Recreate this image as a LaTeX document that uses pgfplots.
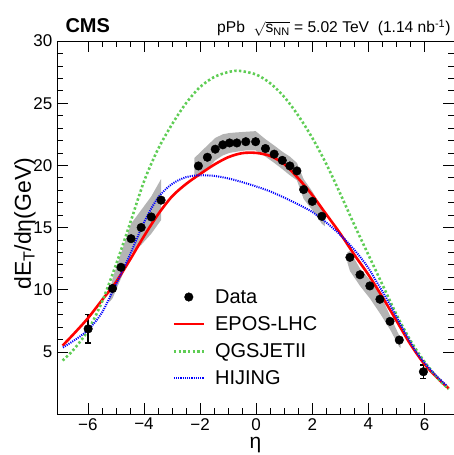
\documentclass[border=0pt]{standalone}
\usepackage{pgfplots}
\pgfplotsset{compat=1.18}
\usepackage{fontspec}
\setmainfont{Liberation Sans}
\definecolor{qgsgreen}{RGB}{95,205,85}
\definecolor{bandgray}{RGB}{180,180,180}
\pgfplotsset{
  linelegend/.style={legend image code/.code={\draw[##1] (0pt,0pt) -- (30pt,0pt);}},
  marklegend/.style={legend image code/.code={\draw[##1, mark repeat=2, mark phase=2] plot coordinates {(0pt,0pt) (15pt,0pt) (30pt,0pt)};}},
}
\pgfplotstableread{
x y e
-5.99 6.85 1.15
-5.12 10.1 0
-4.82 11.8 0
-4.46 14.1 0
-4.10 15.0 0
-3.74 15.85 0
-3.39 17.2 0
-2.06 19.95 0
-1.74 20.65 0
-1.46 21.3 0
-1.19 21.65 0
-0.95 21.8 0
-0.69 21.8 0
-0.37 21.9 0
-0.02 21.9 0
0.33 21.35 0
0.64 20.9 0
0.93 20.4 0
1.20 19.95 0
1.45 19.55 0
1.69 18.05 0
2.00 17.1 0
2.34 15.9 0
3.34 12.6 0
3.70 11.2 0
4.05 10.3 0
4.41 9.23 0
4.77 7.45 0
5.10 5.95 0
5.96 3.4 0.53
}\datatab
\pgfplotstableread{
x y
-6.9 5.5
-6.5 6.45
-6.0 7.7
-5.5 9.15
-5.0 10.6
-4.5 12.4
-4.0 14.3
-3.5 16.05
-3.0 17.5
-2.5 18.5
-2.0 19.3
-1.5 20.05
-1.0 20.65
-0.5 20.98
0.0 21.0
0.5 20.75
1.0 20.1
1.5 18.95
2.0 17.6
2.5 16.05
3.0 14.5
3.5 12.8
4.0 11.2
4.5 9.4
5.0 7.5
5.5 5.6
6.0 4.0
6.5 2.8
6.86 2.06
}\epostab
\pgfplotstableread{
x y
-6.9 4.3
-6.5 5.2
-6.0 6.7
-5.5 9.0
-5.0 12.0
-4.5 15.3
-4.0 18.7
-3.5 21.3
-3.0 23.3
-2.5 25.0
-2.0 26.3
-1.5 27.1
-1.0 27.5
-0.6 27.6
0.0 27.3
0.5 26.6
1.0 25.5
1.5 24.0
2.0 22.2
2.5 20.1
3.0 17.7
3.5 15.2
4.0 12.8
4.5 10.4
5.0 8.0
5.5 5.9
6.0 4.2
6.5 2.8
6.86 2.0
}\qgstab
\pgfplotstableread{
x y
-6.89 5.35
-6.5 5.9
-6.0 6.75
-5.5 8.15
-5.0 10.4
-4.5 12.8
-4.0 15.4
-3.5 17.4
-3.0 18.5
-2.5 19.05
-2.0 19.2
-1.5 19.15
-1.0 18.95
-0.5 18.65
0.0 18.3
0.5 17.9
1.0 17.4
1.5 16.85
2.0 16.25
2.5 15.4
3.0 14.4
3.5 13.2
3.95 11.9
4.3 10.6
4.66 9.23
5.0 7.8
5.37 6.28
5.7 5.0
6.09 3.87
6.45 3.0
6.8 2.26
}\hijtab
\begin{document}
\begin{tikzpicture}
\begin{axis}[
  at={(0pt,0pt)}, anchor=south west,
  scale only axis, width=397pt, height=373pt,
  xmin=-7.1, xmax=7.05, ymin=0, ymax=30,
  xtick={-6,-4,-2,0,2,4,6},
  xticklabels={−6,−4,−2,0,2,4,6},
  ytick={5,10,15,20,25,30},
  yticklabels={5,10,15,20,25,30},
  minor x tick num=3, minor y tick num=4,
  tick align=inside, major tick length=11pt, minor tick length=6pt,
  every tick/.style={black, line width=0.6pt},
  axis line style={line width=0.8pt},
  tick label style={font=\fontsize{17}{17}\selectfont},
  xticklabel style={inner sep=0pt, yshift=-4pt},
  yticklabel style={inner sep=0pt, xshift=-4.5pt},
  xlabel={η},
  xlabel style={font=\fontsize{21}{21}\selectfont, inner sep=0pt, at={(axis description cs:0.5,-0.0938)}, anchor=base},
  ylabel={dE\textsubscript{T}/dη(GeV)},
  ylabel style={font=\fontsize{23}{23}\selectfont, at={(axis description cs:-0.066,0.51)}, anchor=base},
  linelegend,
  legend style={at={(axis cs:-2.99,10.2)}, anchor=north west, draw=none, fill=none,
    font=\fontsize{20}{20}\selectfont, inner xsep=0pt, inner ysep=0pt,
    column sep=8pt, row sep=7.7pt},
  legend cell align=left,
]
% systematic bands
\addplot[fill=bandgray, draw=none, forget plot] coordinates {
(-5.23,9.6) (-5.12,10.9) (-4.82,12.9) (-4.46,15.3) (-4.10,16.4) (-3.74,17.5) (-3.39,18.9)
(-3.39,15.6) (-3.74,14.5) (-4.10,13.6) (-4.46,12.9) (-4.82,10.9) (-5.12,9.3) (-5.23,9.0)};
\addplot[fill=bandgray, draw=none, forget plot] coordinates {
(-2.2,20.6) (-2.06,20.9) (-1.74,21.6) (-1.46,22.2) (-1.19,22.5) (-0.95,22.6) (-0.69,22.65)
(-0.37,22.7) (-0.02,22.75) (0.33,22.1) (0.64,21.6) (0.93,21.1) (1.20,20.7) (1.45,20.2)
(1.69,18.9) (2.00,17.9) (2.34,16.6) (2.45,16.3)
(2.45,15.1) (2.34,15.3) (2.00,16.4) (1.69,17.3) (1.45,18.8) (1.20,19.2) (0.93,19.7)
(0.64,20.2) (0.33,20.7) (-0.02,21.2) (-0.37,21.2) (-0.69,21.1) (-0.95,21.0) (-1.19,20.8)
(-1.46,20.4) (-1.74,19.7) (-2.06,19.1) (-2.2,19.2)};
\addplot[fill=bandgray, draw=none, forget plot] coordinates {
(3.25,13.0) (3.34,13.1) (3.70,11.7) (4.05,10.8) (4.41,9.7) (4.77,7.9) (5.10,6.3) (5.15,6.0)
(5.15,5.3) (5.10,5.4) (4.77,6.8) (4.41,8.1) (4.05,9.3) (3.70,10.3) (3.34,11.5) (3.25,12.2)};
% data
\addplot[only marks, mark=*, mark size=4.3pt, black, marklegend,
  error bars/.cd, y dir=both, y explicit,
  error bar style={line width=1.6pt},
  error mark options={rotate=90, mark size=3pt, line width=1.6pt}]
  table[x=x, y=y, y error=e] {\datatab};
\addlegendentry{Data}
\addplot[red, line width=2.6pt, smooth] table[x=x, y=y] {\epostab};
\addlegendentry{EPOS-LHC}
\addplot[qgsgreen, line width=2.6pt, dash pattern=on 2.4pt off 2.3pt, smooth] table[x=x, y=y] {\qgstab};
\addlegendentry{QGSJETII}
\addplot[blue, line width=2pt, dash pattern=on 1.1pt off 1.1pt, smooth] table[x=x, y=y] {\hijtab};
\addlegendentry{HIJING}
\end{axis}
\node[anchor=base west, font=\fontsize{20}{20}\selectfont\bfseries] at (5pt,381pt) {CMS};
\node[anchor=base east, font=\fontsize{15.6}{16}\selectfont] at (397pt,381pt)
  {pPb\ \ $\sqrt{\mbox{s}_{\mbox{\fontsize{11}{11}\selectfont NN}}}$ = 5.02 TeV\ \ (1.14 nb\textsuperscript{-1})};
\pgfresetboundingbox
\path[use as bounding box] (-57pt,-41pt) rectangle (397pt,414pt);
\end{tikzpicture}
\end{document}
